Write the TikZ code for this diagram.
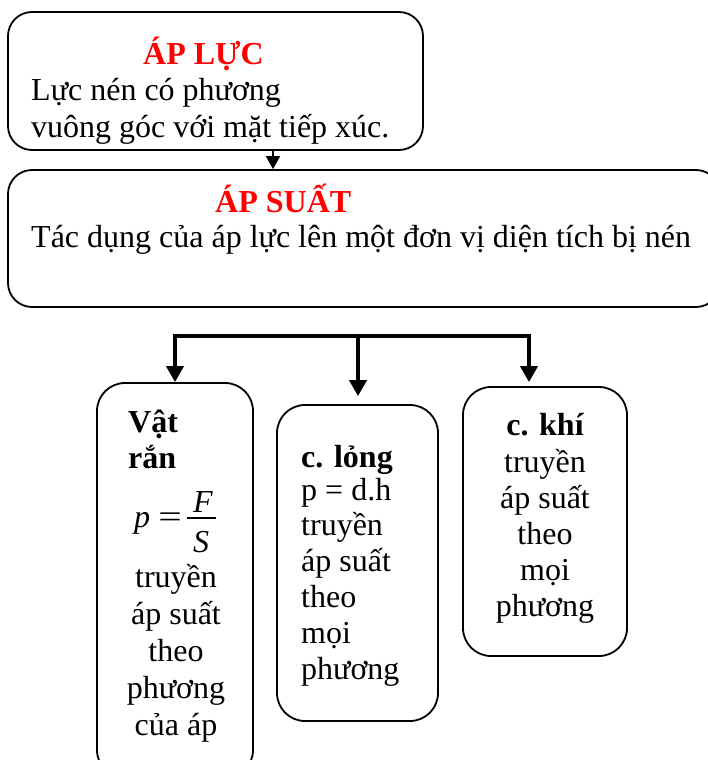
\documentclass[tikz,border=0pt]{standalone}
\usepackage{fontspec}
\setmainfont{Liberation Serif}
\usetikzlibrary{arrows.meta}
\begin{document}
\begin{tikzpicture}[
    x=1pt, y=-1pt,
    round box/.style={draw, line width=1.8pt, rounded corners=24pt, inner sep=0pt},
    small box/.style={round box, rounded corners=28pt},
    title text/.style={font=\fontsize{32}{37}\selectfont\bfseries, text=red, inner sep=0pt, anchor=base west},
    head text/.style={font=\fontsize{32}{36}\selectfont\bfseries, inner sep=0pt, anchor=base west,
        execute at begin node={\lineskiplimit=-40pt}},
    body text/.style={font=\fontsize{32}{36}\selectfont, inner sep=0pt, anchor=base west,
        execute at begin node={\lineskiplimit=-40pt}},
    wide lines/.style={font=\fontsize{32}{37}\selectfont},
    math text/.style={font=\fontsize{32}{36}\selectfont\itshape, inner sep=0pt, anchor=base},
    frac bar/.style={draw, line width=1.4pt},
    thin arrow/.style={draw, line width=1.8pt, -{Triangle[width=14pt,length=13pt]}},
    thick line/.style={draw, line width=4pt, line cap=rect},
    thick arrow/.style={draw, line width=4pt, -{Triangle[width=17pt,length=16pt]}},
    ]
\useasboundingbox (0,0) rectangle (708,760);
\clip (0,0) rectangle (708,760);
\node[round box, minimum width=415pt, minimum height=138pt] (luc) at (215.5,81) {};
\node[round box, minimum width=712pt, minimum height=137pt] (suat) at (364,238.5) {};
\node[small box, minimum width=156pt, minimum height=395pt] (ran) at (175,580.5) {};
\node[small box, minimum width=161pt, minimum height=316pt] (long) at (357.5,563) {};
\node[small box, minimum width=164pt, minimum height=269pt] (khi) at (545,521.5) {};
\node[title text] (lucT) at (143,65) {ÁP LỰC};
\node[body text, wide lines, align=left] (lucD) at (31,137) {Lực nén có phương\\vuông góc với mặt tiếp xúc.};
\node[title text] (suatT) at (215,212) {ÁP SUẤT};
\node[body text] (suatD) at (31,247) {Tác dụng của áp lực lên một đơn vị diện tích bị nén};
\node[head text, align=left] (ranT) at (128,468) {Vật\\rắn};
\node[math text] (ranP) at (142,527) {p};
\node[body text, anchor=base] (ranEq) at (170,527) {\scalebox{1.3}[1]{=}};
\node[math text] (ranF) at (203,512) {F};
\node[math text] (ranS) at (201,552) {S};
\draw[frac bar] (187,518) -- (216,518);
\node[body text, wide lines, anchor=base, align=center] (ranD) at (176,735) {truyền\\áp suất\\theo\\phương\\của áp};
\node[head text] (longT) at (301,467) {c. lỏng};
\node[body text, font=\fontsize{32}{35.8}\selectfont, align=left] (longD) at (301,679) {p = d.h\\truyền\\áp suất\\theo\\mọi\\phương};
\node[head text, anchor=base] (khiT) at (545,435) {c. khí};
\node[body text, anchor=base, align=center] (khiD) at (545,616) {truyền\\áp suất\\theo\\mọi\\phương};
\coordinate (a) at (273,0);
\draw[thin arrow] (luc.south -| a) -- (suat.north -| a);
\coordinate (jl) at (175,336);
\coordinate (jm) at (358,336);
\coordinate (jr) at (529,336);
\draw[thick line] (jl) -- (jr);
\draw[thick arrow] (jl) -- (jl |- ran.north);
\draw[thick arrow, shorten >=8pt] (jm) -- (jm |- long.north);
\draw[thick arrow, shorten >=4pt] (jr) -- (jr |- khi.north);
\end{tikzpicture}
\end{document}
